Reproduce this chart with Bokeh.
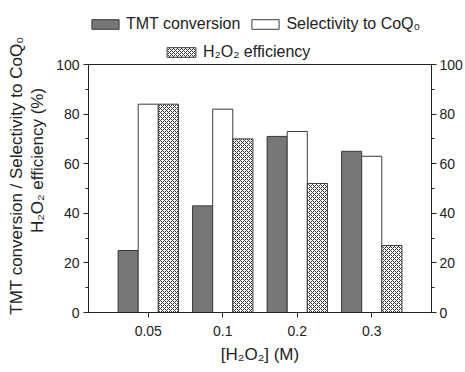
from bokeh.plotting import figure
from bokeh.models import (FactorRange, Range1d, LinearAxis, Legend, LegendItem, Title, Span,
                          ColumnDataSource, SingleIntervalTicker)
from bokeh.transform import dodge
from bokeh.embed import file_html
from bokeh.resources import INLINE

concentrations = ["0.05", "0.1", "0.2", "0.3"]
tmt_conversion = [25, 43, 71, 65]
selectivity = [84, 82, 73, 63]
h2o2_efficiency = [84, 70, 52, 27]

FONT = "Liberation Sans"

src = ColumnDataSource(dict(c=concentrations, tmt=tmt_conversion,
                            sel=selectivity, eff=h2o2_efficiency))

# frame spans 304 px; 0..100 occupies the lower 248 px, legend sits above
p = figure(x_range=FactorRange(factors=concentrations, range_padding=0.151),
           y_range=Range1d(0, 100 * 304 / 248), width=465, height=372,
           output_backend="svg", toolbar_location=None,
           min_border_left=88, min_border_right=33, min_border_top=8, min_border_bottom=60)

W = 0.27
r1 = p.vbar(x=dodge('c', -0.27, range=p.x_range), top='tmt', width=W, source=src,
            fill_color="#777777", line_color="#3a3a3a", line_width=1)
r2 = p.vbar(x=dodge('c', 0.0, range=p.x_range), top='sel', width=W, source=src,
            fill_color="white", line_color="#3a3a3a", line_width=1)
r3 = p.vbar(x=dodge('c', 0.27, range=p.x_range), top='eff', width=W, source=src,
            fill_color="white", line_color="#3a3a3a", line_width=1,
            hatch_pattern="diagonal_cross", hatch_scale=4, hatch_weight=1, hatch_color="#333333")

p.xgrid.visible = False
p.ygrid.visible = False
p.outline_line_color = None
p.add_layout(Span(location=100, dimension="width", line_color="#222222", line_width=1))

def style_axis(ax):
    ax.axis_line_color = "#222222"
    ax.major_tick_line_color = "#222222"
    ax.minor_tick_line_color = "#222222"
    ax.major_tick_out = 5
    ax.major_tick_in = 0
    ax.minor_tick_out = 3
    ax.minor_tick_in = 0
    ax.major_label_text_font = FONT
    ax.major_label_text_font_size = "14px"
    ax.major_label_text_color = "#222222"
    ax.axis_label_text_font = FONT
    ax.axis_label_text_font_size = "17px"
    ax.axis_label_text_font_style = "normal"
    ax.axis_label_text_color = "#222222"

p.yaxis.ticker = SingleIntervalTicker(interval=20, num_minor_ticks=2)
p.yaxis.bounds = (0, 100)
p.yaxis.axis_label = "H₂O₂ efficiency (%)"
p.yaxis.axis_label_standoff = 6
p.yaxis.major_label_standoff = 4
style_axis(p.yaxis[0])

p.xaxis.axis_label = "[H₂O₂] (M)"
p.xaxis.axis_label_standoff = 6
p.xaxis.major_label_standoff = 8
style_axis(p.xaxis[0])

ra = LinearAxis(ticker=SingleIntervalTicker(interval=20, num_minor_ticks=2), bounds=(0, 100))
style_axis(ra)
ra.major_label_standoff = 3
p.add_layout(ra, "right")

t = Title(text="TMT conversion / Selectivity to CoQ₀", align="right", offset=28,
          text_font=FONT, text_font_size="17px", text_font_style="normal",
          text_color="#222222", standoff=0)
p.add_layout(t, "left")

def style_legend(lg, gw, standoff, spacing):
    lg.orientation = "horizontal"
    lg.glyph_width = gw
    lg.glyph_height = 12
    lg.label_text_font = FONT
    lg.label_text_font_size = "16px"
    lg.label_text_color = "#222222"
    lg.label_standoff = standoff
    lg.spacing = spacing
    lg.padding = 0
    lg.margin = 0
    lg.border_line_alpha = 0
    lg.background_fill_alpha = 0

leg1 = Legend(items=[LegendItem(label="TMT conversion", renderers=[r1]),
                     LegendItem(label="Selectivity to CoQ₀", renderers=[r2])],
              location=(0, 279))
style_legend(leg1, 34, 4, 8)
leg2 = Legend(items=[LegendItem(label="H₂O₂ efficiency", renderers=[r3])],
              location=(75, 251))
style_legend(leg2, 36, 4, 8)
p.add_layout(leg1)
p.add_layout(leg2)

open("out.html", "w").write(file_html(p, INLINE))
